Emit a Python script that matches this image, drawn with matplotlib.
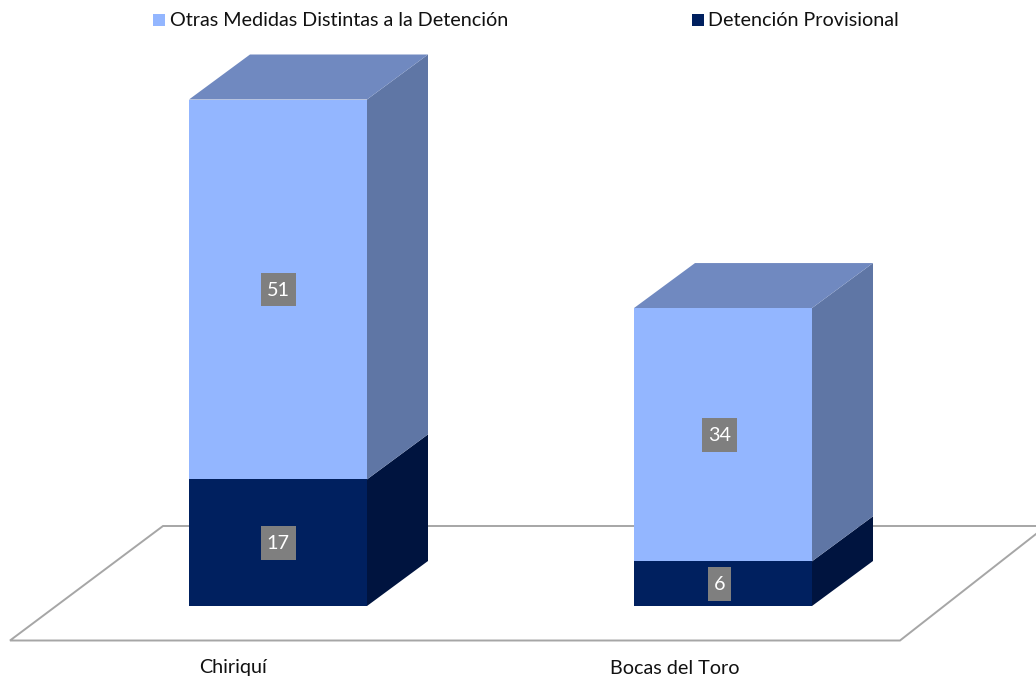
import matplotlib
matplotlib.use("Agg")
import matplotlib.pyplot as plt
from matplotlib.patches import Polygon, Rectangle

categories = ["Chiriquí", "Bocas del Toro"]
series_names = ["Detención Provisional", "Otras Medidas Distintas a la Detención"]
detencion = [17, 6]
otras = [51, 34]

colors_front = ["#00205F", "#93B6FF"]
colors_side = ["#00143F", "#5F76A5"]
color_top = "#7089C0"

W, H = 1036, 677
plt.rcParams["font.family"] = ["Lato", "DejaVu Sans"]
fig = plt.figure(figsize=(W / 100, H / 100), dpi=100, facecolor="white")
ax = fig.add_axes([0, 0, 1, 1])
ax.set_xlim(0, W)
ax.set_ylim(H, 0)
ax.axis("off")

base_y = 606
unit = 506.5 / 68
bar_w = 178
dx, dy = 61, -45
lefts = [189, 634]
label_cx = [278, 719.5]
cat_cx = [233, 674.5]
FS = 14.25

# floor
floor = [(1036, 526), (163, 526), (10, 640.5), (900, 640.5), (1036, 534)]
ax.plot([p[0] for p in floor], [p[1] for p in floor], color="#A6A6A6", lw=1.4,
        solid_joinstyle="miter", zorder=1)

for i, left in enumerate(lefts):
    y0 = base_y
    vals = [detencion[i], otras[i]]
    for j, v in enumerate(vals):
        y1 = y0 - v * unit
        r = left + bar_w
        ax.add_patch(Polygon([(r, y0), (r + dx, y0 + dy), (r + dx, y1 + dy), (r, y1)],
                             fc=colors_side[j], ec="none", zorder=3))
        ax.add_patch(Rectangle((left, y1), bar_w, y0 - y1, fc=colors_front[j], ec="none", zorder=4))
        cy = (y0 + y1) / 2
        bw = 11 + 12 * len(str(v))
        ax.add_patch(Rectangle((label_cx[i] - bw / 2, cy - 16.5), bw, 33.5, fc="#7F7F7F", ec="none", zorder=5))
        ax.text(label_cx[i], cy + 1, str(v), color="white", fontsize=FS,
                ha="center", va="center", zorder=6)
        y0 = y1
    ax.add_patch(Polygon([(left, y0), (left + bar_w, y0), (left + bar_w + dx, y0 + dy), (left + dx, y0 + dy)],
                         fc=color_top, ec="none", zorder=3))
    ax.text(cat_cx[i], 668, categories[i], ha="center", va="center",
            fontsize=FS, color="#111111", zorder=6)

# legend
ax.add_patch(Rectangle((153, 14), 12, 12, fc=colors_front[1], ec="none"))
ax.text(170, 20, series_names[1], ha="left", va="center", fontsize=FS, color="#111111")
ax.add_patch(Rectangle((692, 14), 12, 12, fc=colors_front[0], ec="none"))
ax.text(708, 20, series_names[0], ha="left", va="center", fontsize=FS, color="#111111")

fig.savefig("out.png", dpi=100, facecolor="white")
